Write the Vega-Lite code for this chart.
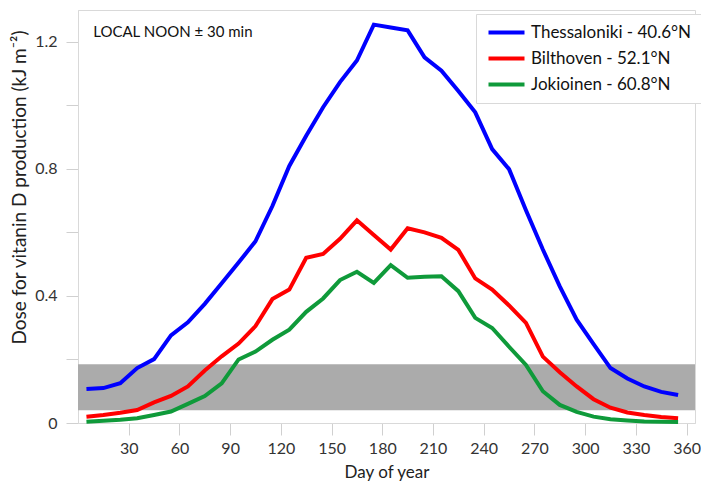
{
  "$schema": "https://vega.github.io/schema/vega-lite/v6.json",
  "width": 617,
  "height": 413,
  "autosize": {"type": "none"},
  "padding": {"left": 78, "top": 10, "right": 6, "bottom": 60},
  "config": {
    "font": "Lato",
    "view": {"stroke": "#d9d9d9", "strokeWidth": 1}
  },
  "datasets": {
    "band": [{"lo": 0.04, "hi": 0.185}],
    "note": [{"day": 9, "dose": 1.232, "label": "LOCAL NOON ± 30 min"}],
    "series": [
      {"site": "Thessaloniki - 40.6°N", "day": 5, "dose": 0.107},
      {"site": "Thessaloniki - 40.6°N", "day": 15, "dose": 0.110},
      {"site": "Thessaloniki - 40.6°N", "day": 25, "dose": 0.125},
      {"site": "Thessaloniki - 40.6°N", "day": 35, "dose": 0.173},
      {"site": "Thessaloniki - 40.6°N", "day": 45, "dose": 0.201},
      {"site": "Thessaloniki - 40.6°N", "day": 55, "dose": 0.276},
      {"site": "Thessaloniki - 40.6°N", "day": 65, "dose": 0.317},
      {"site": "Thessaloniki - 40.6°N", "day": 75, "dose": 0.375},
      {"site": "Thessaloniki - 40.6°N", "day": 85, "dose": 0.440},
      {"site": "Thessaloniki - 40.6°N", "day": 95, "dose": 0.505},
      {"site": "Thessaloniki - 40.6°N", "day": 105, "dose": 0.572},
      {"site": "Thessaloniki - 40.6°N", "day": 115, "dose": 0.683},
      {"site": "Thessaloniki - 40.6°N", "day": 125, "dose": 0.809},
      {"site": "Thessaloniki - 40.6°N", "day": 135, "dose": 0.904},
      {"site": "Thessaloniki - 40.6°N", "day": 145, "dose": 0.994},
      {"site": "Thessaloniki - 40.6°N", "day": 155, "dose": 1.073},
      {"site": "Thessaloniki - 40.6°N", "day": 165, "dose": 1.141},
      {"site": "Thessaloniki - 40.6°N", "day": 175, "dose": 1.254},
      {"site": "Thessaloniki - 40.6°N", "day": 185, "dose": 1.245},
      {"site": "Thessaloniki - 40.6°N", "day": 195, "dose": 1.236},
      {"site": "Thessaloniki - 40.6°N", "day": 205, "dose": 1.151},
      {"site": "Thessaloniki - 40.6°N", "day": 215, "dose": 1.109},
      {"site": "Thessaloniki - 40.6°N", "day": 225, "dose": 1.045},
      {"site": "Thessaloniki - 40.6°N", "day": 235, "dose": 0.978},
      {"site": "Thessaloniki - 40.6°N", "day": 245, "dose": 0.862},
      {"site": "Thessaloniki - 40.6°N", "day": 255, "dose": 0.799},
      {"site": "Thessaloniki - 40.6°N", "day": 265, "dose": 0.670},
      {"site": "Thessaloniki - 40.6°N", "day": 275, "dose": 0.546},
      {"site": "Thessaloniki - 40.6°N", "day": 285, "dose": 0.430},
      {"site": "Thessaloniki - 40.6°N", "day": 295, "dose": 0.325},
      {"site": "Thessaloniki - 40.6°N", "day": 305, "dose": 0.248},
      {"site": "Thessaloniki - 40.6°N", "day": 315, "dose": 0.173},
      {"site": "Thessaloniki - 40.6°N", "day": 325, "dose": 0.140},
      {"site": "Thessaloniki - 40.6°N", "day": 335, "dose": 0.115},
      {"site": "Thessaloniki - 40.6°N", "day": 345, "dose": 0.098},
      {"site": "Thessaloniki - 40.6°N", "day": 355, "dose": 0.088},
      {"site": "Bilthoven - 52.1°N", "day": 5, "dose": 0.020},
      {"site": "Bilthoven - 52.1°N", "day": 15, "dose": 0.025},
      {"site": "Bilthoven - 52.1°N", "day": 25, "dose": 0.032},
      {"site": "Bilthoven - 52.1°N", "day": 35, "dose": 0.041},
      {"site": "Bilthoven - 52.1°N", "day": 45, "dose": 0.065},
      {"site": "Bilthoven - 52.1°N", "day": 55, "dose": 0.085},
      {"site": "Bilthoven - 52.1°N", "day": 65, "dose": 0.115},
      {"site": "Bilthoven - 52.1°N", "day": 75, "dose": 0.165},
      {"site": "Bilthoven - 52.1°N", "day": 85, "dose": 0.210},
      {"site": "Bilthoven - 52.1°N", "day": 95, "dose": 0.250},
      {"site": "Bilthoven - 52.1°N", "day": 105, "dose": 0.305},
      {"site": "Bilthoven - 52.1°N", "day": 115, "dose": 0.390},
      {"site": "Bilthoven - 52.1°N", "day": 125, "dose": 0.420},
      {"site": "Bilthoven - 52.1°N", "day": 135, "dose": 0.520},
      {"site": "Bilthoven - 52.1°N", "day": 145, "dose": 0.532},
      {"site": "Bilthoven - 52.1°N", "day": 155, "dose": 0.580},
      {"site": "Bilthoven - 52.1°N", "day": 165, "dose": 0.638},
      {"site": "Bilthoven - 52.1°N", "day": 175, "dose": 0.592},
      {"site": "Bilthoven - 52.1°N", "day": 185, "dose": 0.546},
      {"site": "Bilthoven - 52.1°N", "day": 195, "dose": 0.613},
      {"site": "Bilthoven - 52.1°N", "day": 205, "dose": 0.600},
      {"site": "Bilthoven - 52.1°N", "day": 215, "dose": 0.583},
      {"site": "Bilthoven - 52.1°N", "day": 225, "dose": 0.545},
      {"site": "Bilthoven - 52.1°N", "day": 235, "dose": 0.455},
      {"site": "Bilthoven - 52.1°N", "day": 245, "dose": 0.420},
      {"site": "Bilthoven - 52.1°N", "day": 255, "dose": 0.370},
      {"site": "Bilthoven - 52.1°N", "day": 265, "dose": 0.315},
      {"site": "Bilthoven - 52.1°N", "day": 275, "dose": 0.209},
      {"site": "Bilthoven - 52.1°N", "day": 285, "dose": 0.160},
      {"site": "Bilthoven - 52.1°N", "day": 295, "dose": 0.115},
      {"site": "Bilthoven - 52.1°N", "day": 305, "dose": 0.075},
      {"site": "Bilthoven - 52.1°N", "day": 315, "dose": 0.048},
      {"site": "Bilthoven - 52.1°N", "day": 325, "dose": 0.033},
      {"site": "Bilthoven - 52.1°N", "day": 335, "dose": 0.025},
      {"site": "Bilthoven - 52.1°N", "day": 345, "dose": 0.019},
      {"site": "Bilthoven - 52.1°N", "day": 355, "dose": 0.015},
      {"site": "Jokioinen - 60.8°N", "day": 5, "dose": 0.004},
      {"site": "Jokioinen - 60.8°N", "day": 15, "dose": 0.007},
      {"site": "Jokioinen - 60.8°N", "day": 25, "dose": 0.010},
      {"site": "Jokioinen - 60.8°N", "day": 35, "dose": 0.015},
      {"site": "Jokioinen - 60.8°N", "day": 45, "dose": 0.025},
      {"site": "Jokioinen - 60.8°N", "day": 55, "dose": 0.036},
      {"site": "Jokioinen - 60.8°N", "day": 65, "dose": 0.060},
      {"site": "Jokioinen - 60.8°N", "day": 75, "dose": 0.085},
      {"site": "Jokioinen - 60.8°N", "day": 85, "dose": 0.125},
      {"site": "Jokioinen - 60.8°N", "day": 95, "dose": 0.200},
      {"site": "Jokioinen - 60.8°N", "day": 105, "dose": 0.225},
      {"site": "Jokioinen - 60.8°N", "day": 115, "dose": 0.262},
      {"site": "Jokioinen - 60.8°N", "day": 125, "dose": 0.294},
      {"site": "Jokioinen - 60.8°N", "day": 135, "dose": 0.350},
      {"site": "Jokioinen - 60.8°N", "day": 145, "dose": 0.392},
      {"site": "Jokioinen - 60.8°N", "day": 155, "dose": 0.450},
      {"site": "Jokioinen - 60.8°N", "day": 165, "dose": 0.476},
      {"site": "Jokioinen - 60.8°N", "day": 175, "dose": 0.441},
      {"site": "Jokioinen - 60.8°N", "day": 185, "dose": 0.497},
      {"site": "Jokioinen - 60.8°N", "day": 195, "dose": 0.457},
      {"site": "Jokioinen - 60.8°N", "day": 205, "dose": 0.460},
      {"site": "Jokioinen - 60.8°N", "day": 215, "dose": 0.462},
      {"site": "Jokioinen - 60.8°N", "day": 225, "dose": 0.415},
      {"site": "Jokioinen - 60.8°N", "day": 235, "dose": 0.331},
      {"site": "Jokioinen - 60.8°N", "day": 245, "dose": 0.299},
      {"site": "Jokioinen - 60.8°N", "day": 255, "dose": 0.240},
      {"site": "Jokioinen - 60.8°N", "day": 265, "dose": 0.183},
      {"site": "Jokioinen - 60.8°N", "day": 275, "dose": 0.100},
      {"site": "Jokioinen - 60.8°N", "day": 285, "dose": 0.057},
      {"site": "Jokioinen - 60.8°N", "day": 295, "dose": 0.035},
      {"site": "Jokioinen - 60.8°N", "day": 305, "dose": 0.020},
      {"site": "Jokioinen - 60.8°N", "day": 315, "dose": 0.012},
      {"site": "Jokioinen - 60.8°N", "day": 325, "dose": 0.008},
      {"site": "Jokioinen - 60.8°N", "day": 335, "dose": 0.005},
      {"site": "Jokioinen - 60.8°N", "day": 345, "dose": 0.004},
      {"site": "Jokioinen - 60.8°N", "day": 355, "dose": 0.003}
    ]
  },
  "layer": [
    {
      "data": {"name": "band"},
      "mark": {"type": "rect", "color": "#ababab", "opacity": 1},
      "encoding": {
        "y": {"field": "lo", "type": "quantitative", "scale": {"domain": [0, 1.3], "nice": false, "zero": false}},
        "y2": {"field": "hi"}
      }
    },
    {
      "data": {"name": "series"},
      "mark": {"type": "line", "strokeWidth": 4, "strokeJoin": "miter", "strokeCap": "butt"},
      "encoding": {
        "x": {
          "field": "day", "type": "quantitative",
          "scale": {"domain": [0, 365], "nice": false, "zero": false},
          "axis": {
            "title": "Day of year",
            "values": [30, 60, 90, 120, 150, 180, 210, 240, 270, 300, 330, 360],
            "labelFlush": false,
            "grid": false,
            "domainColor": "#d9d9d9",
            "tickColor": "#d0d0d0",
            "tickSize": 12,
            "labelFontSize": 16,
            "labelColor": "#333333",
            "labelPadding": 5,
            "titleFontSize": 17,
            "titleFontWeight": "normal",
            "titleColor": "#222222",
            "titlePadding": 8
          }
        },
        "y": {
          "field": "dose", "type": "quantitative",
          "scale": {"domain": [0, 1.3], "nice": false, "zero": false},
          "axis": {
            "title": "Dose for vitanin D production (kJ m⁻²)",
            "values": [0, 0.2, 0.4, 0.6, 0.8, 1.0, 1.2],
            "labelExpr": "round(datum.value * 10) % 4 == 0 ? (datum.value == 0 ? '0' : format(datum.value, '.1f')) : ''",
            "grid": false,
            "domainColor": "#d9d9d9",
            "tickColor": "#d0d0d0",
            "tickSize": 12,
            "labelFontSize": 16,
            "labelColor": "#333333",
            "labelPadding": 9,
            "labelFlush": false,
            "titleFontSize": 19,
            "titleFontWeight": "normal",
            "titleColor": "#222222",
            "titleX": -49,
            "titleY": 177
          }
        },
        "color": {
          "field": "site", "type": "nominal",
          "scale": {
            "domain": ["Thessaloniki - 40.6°N", "Bilthoven - 52.1°N", "Jokioinen - 60.8°N"],
            "range": ["#0000ff", "#ff0000", "#0f9a3a"]
          },
          "legend": {
            "title": null,
            "orient": "none",
            "legendX": 398,
            "legendY": 4,
            "direction": "vertical",
            "symbolType": "M-1,0L5,0",
            "symbolSize": 144,
            "symbolStrokeWidth": 4,
            "labelFontSize": 17,
            "labelLimit": 300,
            "labelColor": "#111111",
            "labelOffset": 28,
            "rowPadding": 8,
            "padding": 10,
            "strokeColor": "#d9d9d9",
            "fillColor": "#ffffff"
          }
        }
      }
    },
    {
      "data": {"name": "note"},
      "mark": {"type": "text", "align": "left", "baseline": "middle", "fontSize": 15, "color": "#111111"},
      "encoding": {
        "x": {"field": "day", "type": "quantitative"},
        "y": {"field": "dose", "type": "quantitative"},
        "text": {"field": "label"}
      }
    }
  ]
}
